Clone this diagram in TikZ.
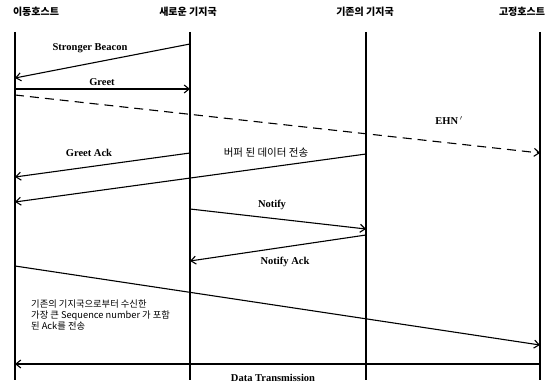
\documentclass[tikz,border=0pt]{standalone}
\usepackage{fontspec}
\setmainfont{Liberation Serif}
\newfontfamily\kr{Noto Sans CJK KR}
\usetikzlibrary{arrows.meta}
\begin{document}
\begin{tikzpicture}[x=1pt,y=-1pt,
  life/.style={line width=1.8pt},
  msg/.style={line width=1.1pt,-{Straight Barb[length=5pt,width=8pt]}},
  lbl/.style={font=\fontsize{10.5}{12}\selectfont\bfseries, inner sep=0pt},
  krl/.style={font=\kr\fontsize{10.5}{12}\selectfont, inner sep=0pt},
  hdr/.style={font=\kr\fontsize{10}{11}\selectfont\bfseries, inner sep=0pt}]
\useasboundingbox (0,0) rectangle (555,385);
% headers
\node[hdr] (h1) at (36,12) {이동호스트};
\node[hdr] (h2) at (188,12) {새로운 기지국};
\node[hdr] (h3) at (365,12) {기존의 기지국};
\node[hdr] (h4) at (522,12) {고정호스트};
% lifelines
\coordinate (a0) at (15,32); \coordinate (a1) at (15,380);
\coordinate (b0) at (190,32); \coordinate (b1) at (190,380);
\coordinate (c0) at (366,32); \coordinate (c1) at (366,380);
\coordinate (d0) at (540,32); \coordinate (d1) at (540,380);
\draw[life] (a0) -- (a1);
\draw[life] (b0) -- (b1);
\draw[life] (c0) -- (c1);
\draw[life] (d0) -- (d1);
% message endpoints
\coordinate (sb1) at (190,44); \coordinate (sb2) at (15,78);
\coordinate (g1) at (15,89); \coordinate (g2) at (190,89);
\coordinate (e1) at (15,95); \coordinate (e2) at (540,153);
\coordinate (ga1) at (190,153); \coordinate (ga2) at (15,177);
\coordinate (bd1) at (366,154); \coordinate (bd2) at (15,202);
\coordinate (n1) at (190,209); \coordinate (n2) at (366,229);
\coordinate (na1) at (366,235); \coordinate (na2) at (190,261);
\coordinate (s1) at (15,266); \coordinate (s2) at (540,345);
\coordinate (dt1) at (540,364); \coordinate (dt2) at (15,364);
\draw[msg] (sb1) -- (sb2);
\draw[msg] (g1) -- (g2);
\draw[msg, dash pattern=on 9pt off 6pt] (e1) -- (e2);
\draw[msg] (ga1) -- (ga2);
\draw[msg] (bd1) -- (bd2);
\draw[msg] (n1) -- (n2);
\draw[msg] (na1) -- (na2);
\draw[msg] (s1) -- (s2);
\draw[msg] (dt1) -- (dt2);
% labels
\node[lbl] (l1) at (90,48) {Stronger Beacon};
\node[lbl] (l2) at (102,82) {Greet};
\node[lbl] (l3) at (449,121) {EHN\,$^{\prime}$};
\node[lbl] (l4) at (89,153) {Greet Ack};
\node[krl] (l5) at (266,153) {버퍼 된 데이터 전송};
\node[lbl] (l6) at (272,205) {Notify};
\node[lbl] (l7) at (285,262) {Notify Ack};
\node[inner sep=0pt, font=\kr\fontsize{9.3}{10.8}\selectfont, align=left, anchor=north west] (l8) at (31,300)
  {기존의 기지국으로부터 수신한\\가장 큰 Sequence number 가 포함\\된 Ack를 전송};
\node[lbl] (l9) at (273,378) {Data Transmission};
\end{tikzpicture}
\end{document}
